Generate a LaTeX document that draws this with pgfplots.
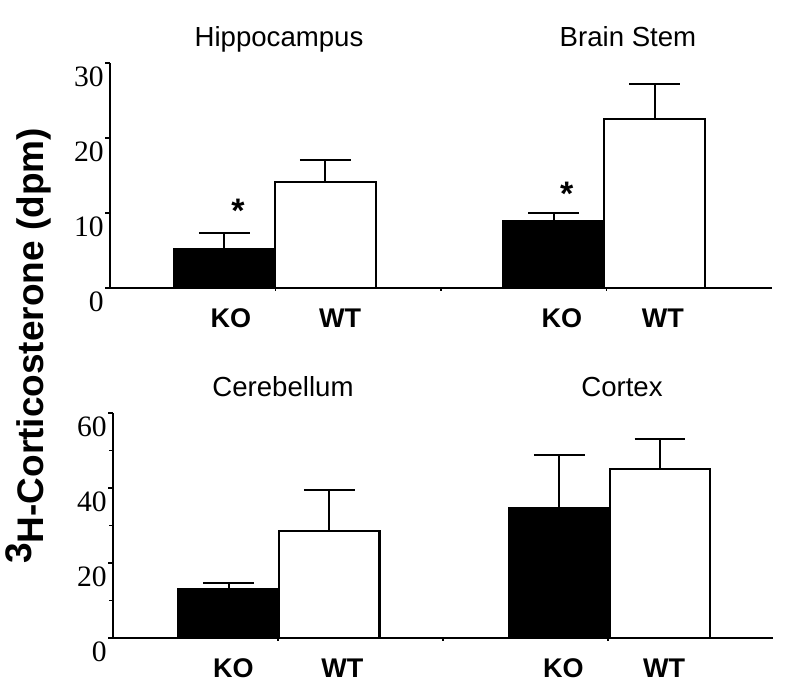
\documentclass[border=0pt]{standalone}
\usepackage{pgfplots}
\pgfplotsset{compat=1.18}
\usepackage{fontspec}
\setmainfont{Liberation Serif}
\newfontfamily\arial{Liberation Sans}
\begin{document}
\begin{tikzpicture}
\useasboundingbox (0,0) rectangle (399pt,348pt);
\pgfplotsset{
  panel/.style={
    scale only axis,
    anchor=south west,
    xmin=0, xmax=4, ymin=0,
    axis x line*=bottom, axis y line*=left,
    axis line style={line width=1pt},
    tick align=outside,
    major tick length=2.5pt, minor tick length=2pt,
    every tick/.style={black, line width=0.9pt},
    xtick={0.73,1.39,2.73,3.34},
    xticklabels={KO,WT,KO,WT},
    x tick style={draw=none},
    xticklabel style={font=\arial\bfseries\fontsize{13.5}{14}\selectfont, anchor=base, yshift=-17.5pt},
    extra x ticks={1,2,3},
    extra x tick labels={},
    extra x tick style={x tick style={draw=black}, major tick length=1.5pt},
    yticklabel style={font=\fontsize{14.8}{15}\selectfont, yshift=-7pt, inner sep=0.5pt},
    clip=false,
    error bars/y dir=plus, error bars/y explicit,
    error bars/error mark=|,
    error bars/error mark options={black, line width=1pt, mark size=12.7pt},
    error bars/error bar style={black, line width=1pt},
  },
  kobar/.style={ybar, bar width=0.61, bar shift=0pt, fill=black, draw=black, line width=1.1pt},
  wtbar/.style={ybar, bar width=0.61, bar shift=0pt, fill=white, draw=black, line width=1.1pt},
}
% top row
\begin{axis}[panel, at={(55pt,204pt)}, width=331pt, height=112.5pt, ymax=30,
  ytick={0,10,20,30}, yticklabels={0,10,20,30}]
\addplot[kobar] coordinates {(0.69,5.2) +- (0,2.1) (2.68,8.9) +- (0,1.1)};
\addplot[wtbar] coordinates {(1.30,14.1) +- (0,3.0) (3.29,22.5) +- (0,4.7)};
\node[font=\arial\bfseries\fontsize{17}{17}\selectfont] at (axis cs:0.773,10.35) {*};
\node[font=\arial\bfseries\fontsize{17}{17}\selectfont] at (axis cs:2.76,12.5) {*};
\end{axis}
% bottom row
\begin{axis}[panel, at={(56.5pt,29pt)}, width=330pt, height=112.5pt, ymax=60,
  ytick={0,20,40,60}, yticklabels={0,20,40,60}, minor ytick={10,30,50}]
\addplot[kobar] coordinates {(0.70,13.1) +- (0,1.6) (2.705,34.7) +- (0,14.1)};
\addplot[wtbar] coordinates {(1.31,28.5) +- (0,11.0) (3.315,45.1) +- (0,8.0)};
\end{axis}
% titles
\begin{scope}[every node/.style={font=\arial\fontsize{13.8}{14}\selectfont, anchor=base}]
\node at (139.5pt,324.5pt) {Hippocampus};
\node at (314pt,324.5pt) {Brain Stem};
\node at (141.5pt,149.5pt) {Cerebellum};
\node at (311pt,149.5pt) {Cortex};
\end{scope}
\node[rotate=90, font=\arial\bfseries\fontsize{18.5}{19}\selectfont] at (14pt,175pt) {\raisebox{6pt}{3}H-Corticosterone (dpm)};
\end{tikzpicture}
\end{document}
